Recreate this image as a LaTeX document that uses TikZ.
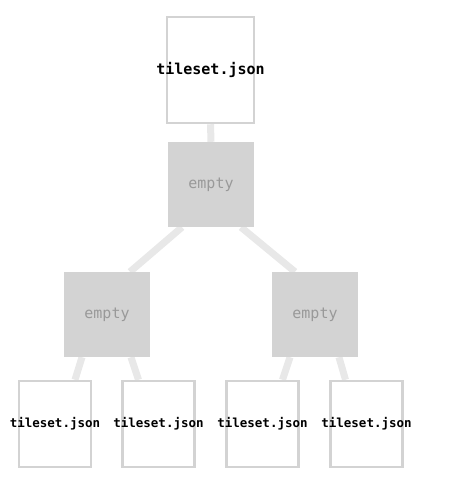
\documentclass[tikz,border=0pt]{standalone}
\usepackage{fontspec}
\setmonofont{DejaVu Sans Mono}
\usetikzlibrary{calc}
\definecolor{boxgray}{HTML}{D3D3D3}
\definecolor{linkgray}{HTML}{E8E8E8}
\definecolor{textgray}{HTML}{999999}
\pgfdeclarelayer{background}
\pgfsetlayers{background,main}

\begin{document}
\begin{tikzpicture}[x=1pt,y=-1pt,line cap=butt,line join=miter,
        link/.style={line width=7pt,linkgray},
        tileset/.style={draw=boxgray,line width=2.5pt,fill=white,inner sep=0pt},
        emptytile/.style={fill=boxgray,inner sep=0pt,minimum width=86pt,minimum height=85pt,
            font=\ttfamily\fontsize{15}{15}\selectfont,text=textgray}]
        \useasboundingbox (0,0) rectangle (453,479);
        \node[tileset,minimum width=87pt,minimum height=106pt,
            label={[font=\ttfamily\bfseries\fontsize{15}{15}\selectfont]center:tileset.json}] (top) at (210.5,70) {};
        \node[emptytile] (root) at (211,184.5) {empty};
        \node[emptytile] (left) at (107,314.5) {empty};
        \node[emptytile] (right) at (315,314.5) {empty};
        \foreach \x/\n in {55/la,158.5/lb,262.5/ra,366.5/rb}
            \node[tileset,minimum width=72pt,minimum height=86pt,
                label={[font=\ttfamily\bfseries\fontsize{12.5}{12.5}\selectfont]center:tileset.json}] (\n) at (\x,424) {};
        % links behind the tiles
        \begin{pgfonlayer}{background}
        \draw[link] (top.south) -- (root.north);
        \draw[link] ($(root.south)+(-29,0)$) -- ($(left.north)+(23,0)$);
        \draw[link] ($(root.south)+(30,0)$) -- ($(right.north)+(-20,0)$);
        \draw[link] ($(left.south)+(-25,0)$) -- ($(la.north)+(20,0)$);
        \draw[link] ($(left.south)+(24,0)$) -- ($(lb.north)+(-20,0)$);
        \draw[link] ($(right.south)+(-25,0)$) -- ($(ra.north)+(20,0)$);
        \draw[link] ($(right.south)+(24,0)$) -- ($(rb.north)+(-21,0)$);
        \end{pgfonlayer}
\end{tikzpicture}
\end{document}
